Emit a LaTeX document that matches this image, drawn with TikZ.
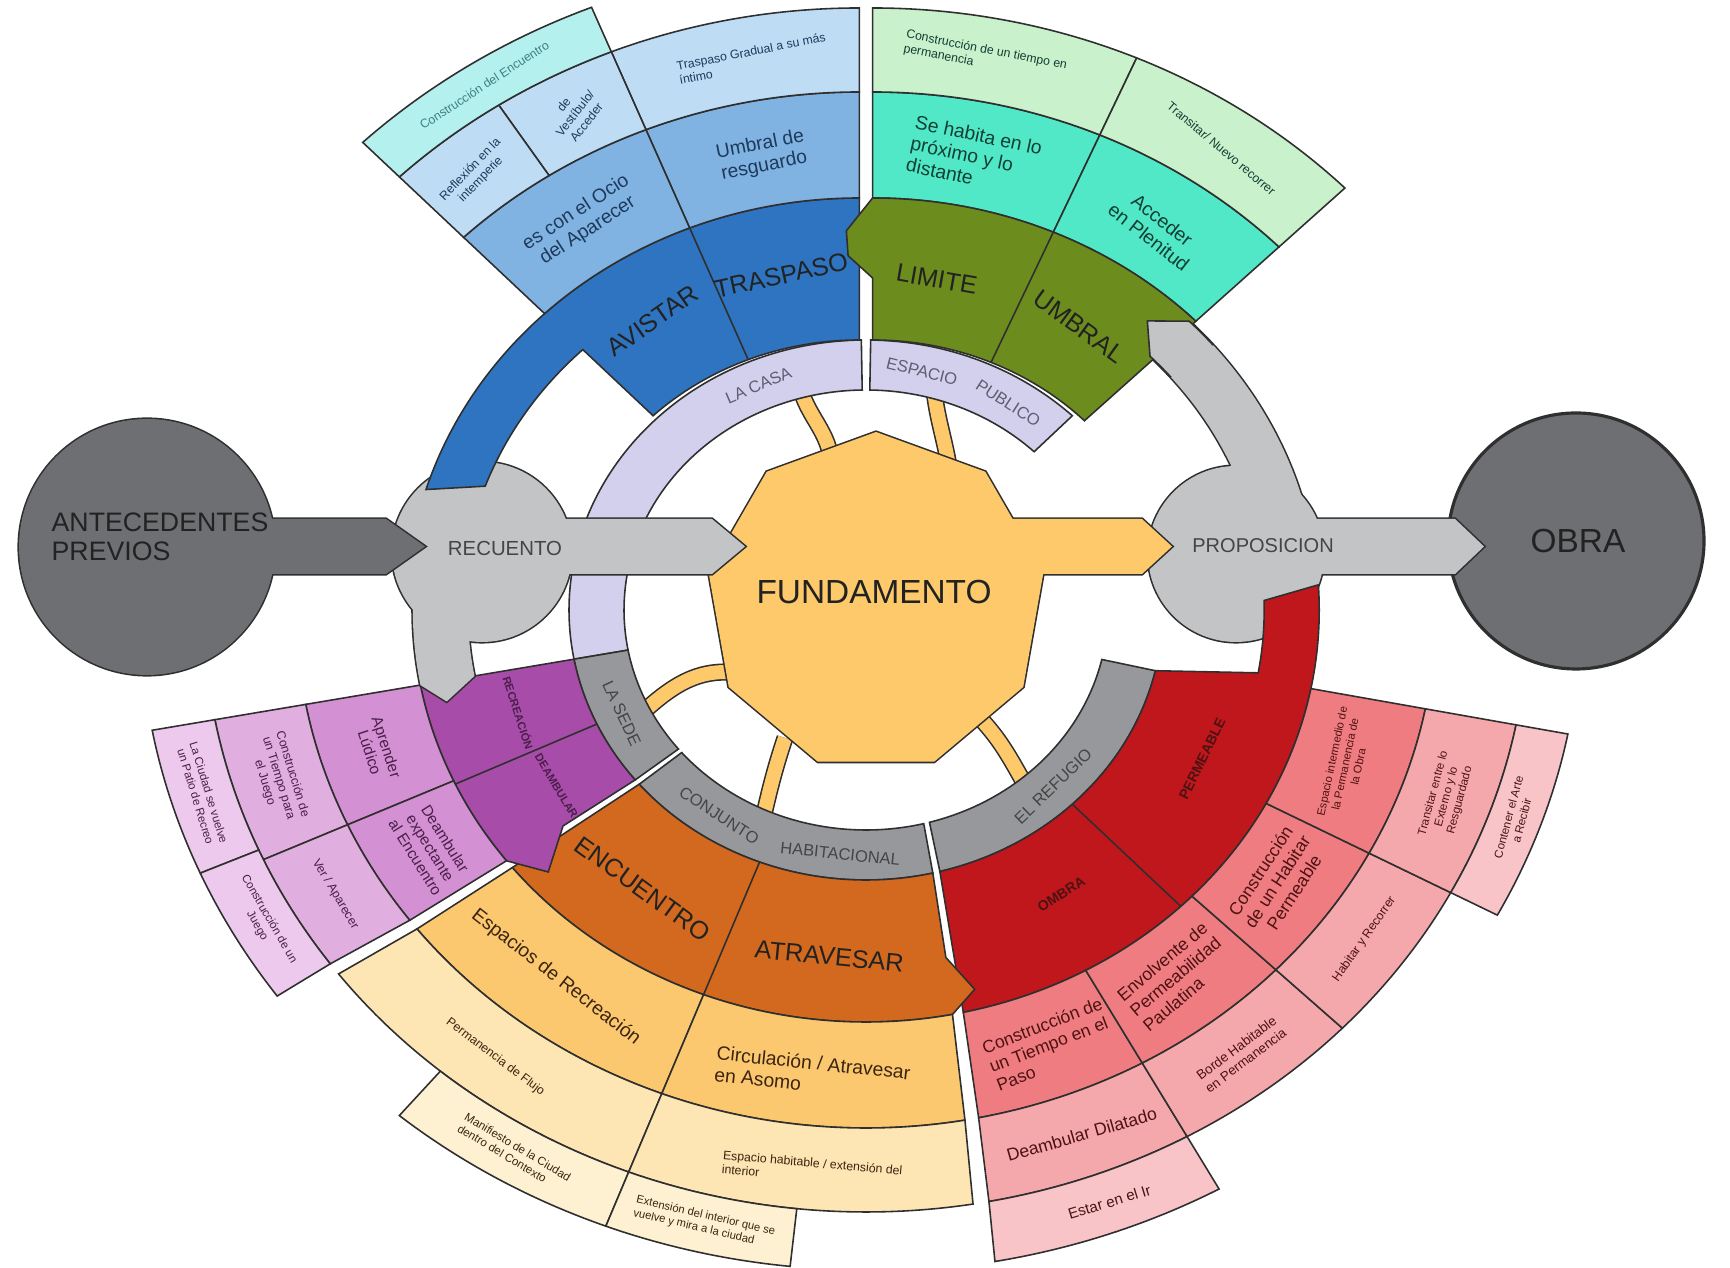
\documentclass[tikz,border=0pt]{standalone}
\usepackage{fontspec}
\setmainfont{Liberation Sans}
\usepackage{tikz}
\definecolor{koyuGri}{HTML}{6E6F72}
\definecolor{acikGri}{HTML}{C3C4C6}
\definecolor{ortaGri}{HTML}{97989B}
\definecolor{cizgi}{HTML}{2F2F2F}
\definecolor{lavanta}{HTML}{D2D0EC}
\definecolor{sari}{HTML}{FDC96B}
\definecolor{maviKoyu}{HTML}{2E74C0}
\definecolor{maviOrta}{HTML}{80B2E2}
\definecolor{maviAcik}{HTML}{BEDDF5}
\definecolor{camgobegi}{HTML}{B4F0EE}
\definecolor{zeytin}{HTML}{6C8C1E}
\definecolor{turkuaz}{HTML}{50E8C6}
\definecolor{acikYesil}{HTML}{C9F1CB}
\definecolor{morKoyu}{HTML}{A84CAA}
\definecolor{morOrta}{HTML}{D390D2}
\definecolor{morAcik}{HTML}{E0AFDF}
\definecolor{morSoluk}{HTML}{EDCAED}
\definecolor{turuncuKoyu}{HTML}{D2691F}
\definecolor{turuncuAcik}{HTML}{FBC86F}
\definecolor{krem}{HTML}{FDE6B4}
\definecolor{kremSoluk}{HTML}{FEF1D2}
\definecolor{kirmiziKoyu}{HTML}{C0171D}
\definecolor{pembe}{HTML}{EF7C81}
\definecolor{pembeAcik}{HTML}{F5A8AC}
\definecolor{pembeSoluk}{HTML}{F8C4C7}
\definecolor{yaziKoyu}{HTML}{222222}
\definecolor{griYazi}{HTML}{454545}
\definecolor{lavantaYazi}{HTML}{5E5E72}
\definecolor{maviYazi}{HTML}{1D3A5C}
\definecolor{turkuazYazi}{HTML}{3F7F80}
\definecolor{yesilYazi}{HTML}{123F35}
\definecolor{morYazi}{HTML}{4B1E4B}
\definecolor{turuncuYazi}{HTML}{3B2410}
\definecolor{kirmiziYazi}{HTML}{4D1212}
\newcommand{\rA}{2.2}
\newcommand{\rB}{2.7}
\newcommand{\rC}{3.62}
\newcommand{\rD}{4.12}
\newcommand{\rE}{5.18}
\newcommand{\rF}{6.02}
\newcommand{\rG}{6.5}
\newcommand{\dilim}[7]{\draw[hucre,fill=#1] (#2:#6) arc[start angle=#2,end angle=#3,radius=#6] -- (#5:#7) arc[start angle=#5,end angle=#4,radius=#7] -- cycle;}
\newcommand{\propBant}{(8:\rC) arc[start angle=8,end angle=44.5,radius=\rC] -- (48.5:3.86) -- (44.5:\rD) arc[start angle=44.5,end angle=8,radius=\rD] -- cycle}
\newcommand{\recBant}{(175:\rC) arc[start angle=175,end angle=190.5,radius=\rC] -- (193.5:3.92) -- (190.5:\rD) arc[start angle=190.5,end angle=175,radius=\rD] -- cycle}
\newcommand{\propOk}{(12.9,7.49) -- (14.55,7.49) -- (14.84,7.215) -- (14.55,6.94) -- (12.9,6.94) -- cycle}
\newcommand{\recOk}{(5.3,7.49) -- (7.12,7.49) -- (7.45,7.215) -- (7.12,6.94) -- (5.3,6.94) -- cycle}
\newcommand{\oncOk}{(2.2,7.49) -- (3.86,7.49) -- (4.25,7.215) -- (3.86,6.94) -- (2.2,6.94) -- cycle}
\newcommand{\temelOk}{(9.9,7.49) -- (11.42,7.49) -- (11.72,7.215) -- (11.42,6.94) -- (9.9,6.94) -- cycle}
\newcommand{\dokuzgen}{(90:1.7) -- (130:1.7) -- (170:1.7) -- (210:1.7) -- (250:1.7) -- (290:1.7) -- (330:1.7) -- (10:1.7) -- (50:1.7) -- cycle}
\begin{document}
\begin{tikzpicture}[
  halka/.style={shift={(8.66,6.58)},xscale=1.1},
  hucre/.style={draw=cizgi,line width=0.45pt},
  birlesik/.style={draw=cizgi,line width=0.9pt},
  sap/.style={draw=cizgi,line width=0.45pt,double=sari,double distance=0.14cm},
  baslik/.style={inner sep=0pt,font=\fontsize{7.2}{8}\selectfont,text=yaziKoyu},
  etiket/.style={inner sep=0pt,font=\fontsize{4}{4.6}\selectfont\bfseries},
  orta/.style={inner sep=0pt,align=center,font=\fontsize{5.5}{6.2}\selectfont,text=yaziKoyu},
  kucuk/.style={inner sep=0pt,align=center,font=\fontsize{3.5}{4.1}\selectfont,text=yaziKoyu},
  halkaYazi/.style={inner sep=0pt,font=\fontsize{4.7}{5.2}\selectfont,text=griYazi}
]
\useasboundingbox (0,0) rectangle (17.3,12.68);
\draw[birlesik,fill=koyuGri] (15.76,7.27) circle (1.28);

\draw[sap] (8.32,8.0) .. controls (8.3,8.4) and (8.05,8.5) .. (7.98,8.9);
\draw[sap] (9.5,7.95) .. controls (9.45,8.3) and (9.36,8.5) .. (9.33,8.88);
\draw[sap] (7.4,5.95) .. controls (7.0,6.0) and (6.75,5.85) .. (6.42,5.55);
\draw[sap] (7.85,5.3) .. controls (7.75,5.0) and (7.7,4.8) .. (7.62,4.45);
\draw[sap] (9.75,5.55) .. controls (10.0,5.3) and (10.1,5.1) .. (10.28,4.78);

\begin{scope}[halka]
\dilim{lavanta}{90.9}{190.5}{90.9}{190.5}{\rA}{\rB}
\dilim{lavanta}{46}{89.1}{46}{89.1}{\rA}{\rB}
\dilim{ortaGri}{190.5}{219.2}{190.5}{219}{\rA}{\rB}
\dilim{ortaGri}{220.4}{283.8}{220.2}{283}{\rA}{\rB}
\dilim{ortaGri}{285.2}{347}{284.4}{347}{\rA}{\rB}
\node[halkaYazi,text=lavantaYazi,rotate=23] (laCasa) at (113.5:2.45) {LA CASA};
\node[halkaYazi,text=lavantaYazi,rotate=-14] (espacio) at (78:2.44) {ESPACIO};
\node[halkaYazi,text=lavantaYazi,rotate=-33] (publico) at (58:2.44) {PUBLICO};
\node[halkaYazi,rotate=-65] (laSede) at (205:2.45) {LA SEDE};
\node[halkaYazi,rotate=-33] (conjunto) at (237:2.45) {CONJUNTO};
\node[halkaYazi,rotate=-6] (habitacional) at (264.5:2.45) {HABITACIONAL};
\node[halkaYazi,rotate=44] (refugio) at (314:2.45) {EL REFUGIO};
\end{scope}

\draw[birlesik] (12.36,7.14) circle (0.88);
\draw[birlesik] \propOk;
\begin{scope}[halka]
\draw[birlesik] \propBant;
\end{scope}
\fill[acikGri] (12.36,7.14) circle (0.88);
\fill[acikGri] \propOk;
\begin{scope}[halka]
\fill[acikGri] \propBant;
\end{scope}

\begin{scope}[shift={(8.76,6.66)}]
\draw[birlesik] \dokuzgen;
\end{scope}
\draw[birlesik] \temelOk;
\begin{scope}[shift={(8.76,6.66)}]
\fill[sari] \dokuzgen;
\end{scope}
\fill[sari] \temelOk;

\begin{scope}[halka]
\draw[hucre,fill=kirmiziKoyu] (284.4:\rB) arc[start angle=284.4,end angle=347,radius=\rB] -- (350:\rC) arc[start angle=350,end angle=361.5,radius=\rC] -- (363.5:\rD) arc[start angle=363.5,end angle=282.4,radius=\rD] -- cycle;
\draw[hucre] (314:\rB) -- (314:\rD);
\dilim{pembe}{282.4}{299}{281.4}{299}{\rD}{\rE}
\dilim{pembe}{299}{316}{299}{316}{\rD}{\rE}
\dilim{pembe}{316}{332}{316}{332}{\rD}{\rE}
\dilim{pembe}{332}{349}{332}{349}{\rD}{\rE}
\dilim{pembeAcik}{281.4}{299}{280.7}{299}{\rE}{\rF}
\dilim{pembeAcik}{299}{316}{299}{316}{\rE}{\rF}
\dilim{pembeAcik}{316}{332}{316}{332}{\rE}{\rF}
\dilim{pembeAcik}{332}{349}{332}{349}{\rE}{\rF}
\dilim{pembeSoluk}{280.7}{299}{280.2}{299}{\rF}{6.62}
\dilim{pembeSoluk}{332}{349}{332}{349}{\rF}{\rG}
\node[etiket,text=kirmiziYazi,rotate=32] (ombra) at (302:3.35) {OMBRA};
\node[etiket,text=kirmiziYazi,rotate=64] (permeable) at (334:3.4) {PERMEABLE};
\node[orta,align=left,text=kirmiziYazi,font=\fontsize{5}{5.7}\selectfont,rotate=21] (tiempoPaso) at (291:4.65) {Construcción de\\un Tiempo en el\\Paso};
\node[orta,align=left,text=kirmiziYazi,font=\fontsize{5}{5.7}\selectfont,rotate=40] (envolvente) at (307.5:4.62) {Envolvente de\\Permeabilidad\\Paulatina};
\node[orta,text=kirmiziYazi,font=\fontsize{5}{5.7}\selectfont,rotate=57] (habitarPerm) at (324:4.62) {Construcción\\de un Habitar\\Permeable};
\node[kucuk,text=kirmiziYazi,font=\fontsize{3.2}{3.8}\selectfont,rotate=78] (intermedio) at (340.5:4.62) {Espacio intermedio de\\la Permanencia de\\la Obra};
\node[orta,text=kirmiziYazi,font=\fontsize{5}{5.7}\selectfont,rotate=16] (dilatado) at (290.5:5.6) {Deambular Dilatado};
\node[kucuk,text=kirmiziYazi,font=\fontsize{3.8}{4.4}\selectfont,rotate=37] (borde) at (307.5:5.6) {Borde Habitable\\en Permanencia};
\node[kucuk,text=kirmiziYazi,rotate=55] (recorrer) at (324:5.6) {Habitar y Recorrer};
\node[kucuk,text=kirmiziYazi,font=\fontsize{3.3}{3.9}\selectfont,rotate=75] (externo) at (340.5:5.6) {Transitar entre lo\\Externo y lo\\Resguardado};
\node[kucuk,text=kirmiziYazi,font=\fontsize{4.3}{5}\selectfont,rotate=17] (estar) at (290.5:6.32) {Estar en el Ir};
\node[kucuk,text=kirmiziYazi,font=\fontsize{3.3}{3.9}\selectfont,rotate=75] (contener) at (340.5:6.26) {Contener el Arte\\a Recibir};
\end{scope}

\begin{scope}[halka]
\draw[hucre,fill=turuncuKoyu] (220.2:\rB) arc[start angle=220.2,end angle=283,radius=\rB] -- (281.8:3.55) -- (284.6:3.92) -- (281:\rD) arc[start angle=281,end angle=218.7,radius=\rD] -- cycle;
\draw[hucre] (249:\rB) -- (249:\rD);
\dilim{turuncuAcik}{218.7}{249}{218}{249}{\rD}{\rE}
\dilim{turuncuAcik}{249}{281}{249}{280}{\rD}{\rE}
\dilim{krem}{218}{249}{217.2}{249}{\rE}{\rF}
\dilim{krem}{249}{280}{249}{279.3}{\rE}{\rF}
\dilim{kremSoluk}{230}{249}{230}{249}{\rF}{6.6}
\dilim{kremSoluk}{249}{264}{249}{264}{\rF}{6.6}
\node[baslik,rotate=-36] (encuentro) at (234:3.45) {ENCUENTRO};
\node[baslik,rotate=-5.5] (atravesar) at (264.5:3.48) {ATRAVESAR};
\node[orta,text=turuncuYazi,rotate=-38] (espaciosRec) at (232.5:4.63) {Espacios de Recreación};
\node[orta,align=left,text=turuncuYazi,rotate=-6] (circulacion) at (264:4.66) {Circulación / Atravesar\\en Asomo};
\node[kucuk,text=turuncuYazi,rotate=-37] (permanencia) at (233:5.6) {Permanencia de Flujo};
\node[kucuk,align=left,text=turuncuYazi,rotate=-5] (espacioHab) at (265:5.62) {Espacio habitable / extensión del\\interior};
\node[kucuk,align=left,text=turuncuYazi,font=\fontsize{3.3}{3.9}\selectfont,rotate=-31] (manifiesto) at (239.5:6.3) {Manifiesto de la Ciudad\\dentro del Contexto};
\node[kucuk,align=left,text=turuncuYazi,font=\fontsize{3.2}{3.8}\selectfont,rotate=-13] (extension) at (256.5:6.3) {Extensión del interior que se\\vuelve y mira a la ciudad};
\end{scope}

\begin{scope}[halka]
\draw[hucre,fill=morKoyu] (190.5:\rB) arc[start angle=190.5,end angle=219,radius=\rB] -- (218.1:3.5) -- (222.2:3.9) -- (217.5:\rD) arc[start angle=217.5,end angle=190.5,radius=\rD] -- cycle;
\draw[hucre] (205:\rB) -- (205:\rD);
\dilim{morOrta}{190.5}{204.5}{190.5}{204.5}{\rD}{\rE}
\dilim{morOrta}{204.5}{217.5}{204.5}{216.8}{\rD}{\rE}
\dilim{morAcik}{190.5}{204.5}{190.5}{204.5}{\rE}{\rF}
\dilim{morAcik}{204.5}{216.8}{204.5}{216}{\rE}{\rF}
\dilim{morSoluk}{190.5}{203.5}{190.5}{203.5}{\rF}{6.6}
\dilim{morSoluk}{203.5}{216}{203.5}{215.8}{\rF}{6.6}
\node[etiket,text=morYazi,font=\fontsize{3.2}{3.8}\selectfont\bfseries,rotate=-72] (recreacion) at (198:3.32) {RECREACIÓN};
\node[etiket,text=morYazi,font=\fontsize{3.2}{3.8}\selectfont\bfseries,rotate=-59] (deambular) at (212:3.32) {DEAMBULAR};
\node[kucuk,text=morYazi,font=\fontsize{4.4}{5}\selectfont,rotate=-72] (aprender) at (197.5:4.65) {Aprender\\Lúdico};
\node[kucuk,text=morYazi,font=\fontsize{4.4}{5}\selectfont,rotate=-58] (expectante) at (211:4.62) {Deambular\\expectante\\al Encuentro};
\node[kucuk,text=morYazi,rotate=-73] (tiempoJuego) at (197.5:5.6) {Construcción de\\un Tiempo para\\el Juego};
\node[kucuk,text=morYazi,rotate=-59] (verAparecer) at (210.5:5.6) {Ver / Aparecer};
\node[kucuk,text=morYazi,font=\fontsize{3.3}{3.9}\selectfont,rotate=-73] (patio) at (197:6.31) {La Ciudad se vuelve\\un Patio de Recreo};
\node[kucuk,text=morYazi,font=\fontsize{3.3}{3.9}\selectfont,rotate=-60] (juego) at (209.7:6.31) {Construcción de un\\Juego};
\end{scope}

\draw[birlesik] (4.82,7.16) circle (0.9);
\draw[birlesik] \recOk;
\begin{scope}[halka]
\draw[birlesik] \recBant;
\end{scope}
\fill[acikGri] (4.82,7.16) circle (0.9);
\fill[acikGri] \recOk;
\begin{scope}[halka]
\fill[acikGri] \recBant;
\end{scope}

\draw[birlesik] (1.47,7.21) circle (1.28);
\draw[birlesik] \oncOk;
\fill[koyuGri] (1.47,7.21) circle (1.28);
\fill[koyuGri] \oncOk;

\begin{scope}[halka,xshift=-0.06cm]
\draw[hucre,fill=maviKoyu] (90:\rB) arc[start angle=90,end angle=134,radius=\rB] -- (134:\rC) arc[start angle=134,end angle=160,radius=\rC] -- (163:\rD) arc[start angle=163,end angle=90,radius=\rD] -- cycle;
\draw[hucre] (112:\rB) -- (112:\rD);
\dilim{maviOrta}{90}{112}{90}{112}{\rD}{\rE}
\dilim{maviOrta}{112}{134}{112}{134}{\rD}{\rE}
\dilim{maviAcik}{90}{112}{90}{112}{\rE}{\rF}
\dilim{maviAcik}{112}{123}{112}{123}{\rE}{\rF}
\dilim{maviAcik}{123}{134}{123}{134}{\rE}{\rF}
\dilim{camgobegi}{112}{134}{112}{134}{\rF}{\rG}
\node[baslik,rotate=12] (traspaso) at (102:3.42) {TRASPASO};
\node[baslik,rotate=35] (avistar) at (123:3.45) {AVISTAR};
\node[orta,text=maviYazi,rotate=11] (umbralResguardo) at (101:4.63) {Umbral de\\resguardo};
\node[orta,text=maviYazi,rotate=33] (ocio) at (123:4.63) {es con el Ocio\\del Aparecer};
\node[kucuk,align=left,text=maviYazi,rotate=11] (traspasoGradual) at (100:5.6) {Traspaso Gradual a su más\\íntimo};
\node[kucuk,text=maviYazi,rotate=46] (reflexion) at (128.7:5.58) {Reflexión en la\\intemperie};
\node[kucuk,text=maviYazi,rotate=52] (vestibulo) at (117.5:5.6) {de\\Vestíbulo/\\Acceder};
\node[kucuk,text=turkuazYazi,rotate=33] (encuentroCons) at (123:6.26) {Construcción del Encuentro};
\end{scope}

\begin{scope}[halka,xshift=0.06cm]
\dilim{turkuaz}{66.5}{90}{66.5}{90}{\rD}{\rE}
\dilim{turkuaz}{44.5}{66.5}{44.5}{66.5}{\rD}{\rE}
\dilim{acikYesil}{66.5}{90}{66.5}{90}{\rE}{\rF}
\dilim{acikYesil}{44.5}{66.5}{44.5}{66.5}{\rE}{\rF}
\draw[hucre,fill=zeytin] (44.5:\rB) arc[start angle=44.5,end angle=90,radius=\rB] -- (90:3.32) -- (93.6:3.55) -- (93.6:3.8) -- (90:\rD) arc[start angle=90,end angle=44.5,radius=\rD] -- cycle;
\draw[hucre] (66.5:\rB) -- (66.5:\rD);
\node[baslik,rotate=-10] (limite) at (80:3.36) {LIMITE};
\node[baslik,rotate=-36] (umbral) at (56.5:3.4) {UMBRAL};
\node[orta,align=left,text=yesilYazi,rotate=-12] (seHabita) at (78.5:4.63) {Se habita en lo\\próximo y lo\\distante};
\node[orta,text=yesilYazi,rotate=-38] (acceder) at (56:4.6) {Acceder\\en Plenitud};
\node[kucuk,align=left,text=yesilYazi,rotate=-11] (tiempoPermanencia) at (79.5:5.62) {Construcción de un tiempo en\\permanencia};
\node[kucuk,text=yesilYazi,rotate=-40] (transitar) at (55.5:5.6) {Transitar/ Nuevo recorrer};
\end{scope}

\begin{scope}[halka]
\clip (40:3.2) -- (40:4.5) -- (53:4.5) -- (53:3.2) -- cycle;
\draw[hucre,fill=acikGri] \propBant;
\end{scope}

\node[align=left,font=\fontsize{7.6}{8.2}\selectfont,text=yaziKoyu] (antecedentes) at (1.6,7.31) {ANTECEDENTES\\PREVIOS};
\node[font=\fontsize{5.8}{6}\selectfont,text=griYazi] (recuento) at (5.05,7.2) {RECUENTO};
\node[font=\fontsize{9.5}{10}\selectfont,text=yaziKoyu] (fundamento) at (8.74,6.76) {FUNDAMENTO};
\node[font=\fontsize{5.7}{6}\selectfont,text=griYazi] (proposicion) at (12.63,7.22) {PROPOSICION};
\node[font=\fontsize{9.5}{10}\selectfont,text=yaziKoyu] (obra) at (15.78,7.27) {OBRA};
\end{tikzpicture}
\end{document}
